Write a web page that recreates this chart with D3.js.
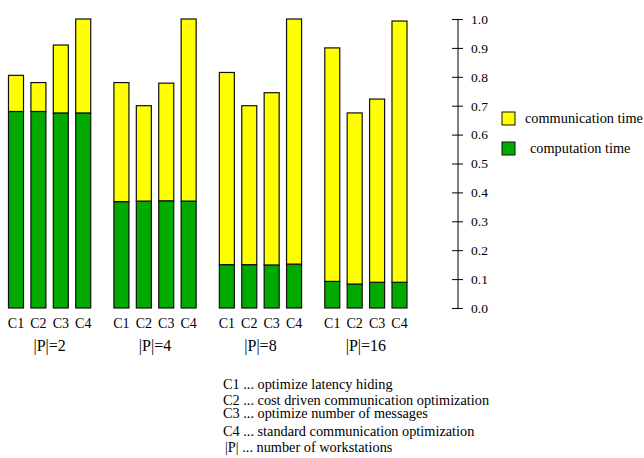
<!DOCTYPE html>
<html>
<head>
<meta charset="utf-8">
<script src="https://cdn.jsdelivr.net/npm/d3@7"></script>
<style>
  html, body { margin: 0; padding: 0; background: #fff; }
</style>
</head>
<body>
<svg id="chart" width="644" height="458"></svg>
<script>
// ---- data ----
const groups = ["|P|=2", "|P|=4", "|P|=8", "|P|=16"];
const configs = ["C1", "C2", "C3", "C4"];
// computation time per group (C1..C4)
const computation = [
  [0.68, 0.68, 0.675, 0.675],
  [0.368, 0.37, 0.371, 0.37],
  [0.15, 0.15, 0.149, 0.152],
  [0.092, 0.083, 0.089, 0.089]
];
// communication time per group (C1..C4)
const communication = [
  [0.125, 0.10, 0.235, 0.325],
  [0.412, 0.33, 0.407, 0.63],
  [0.665, 0.55, 0.596, 0.848],
  [0.808, 0.592, 0.634, 0.904]
];
const yTicks = [0, 0.1, 0.2, 0.3, 0.4, 0.5, 0.6, 0.7, 0.8, 0.9, 1.0];
const seriesNames = ["communication time", "computation time"];
const seriesColors = ["#ffff00", "#00aa00"];
const notes = [
  "C1 ... optimize latency hiding",
  "C2 ... cost driven communication optimization",
  "C3 ... optimize number of messages",
  "C4 ... standard communication optimization",
  "|P| ... number of workstations"
];

const FONT = "'Liberation Serif'";

// ---- layout ----
const svg = d3.select("#chart");
const y = d3.scaleLinear().domain([0, 1]).range([308, 19]);
const x0 = d3.scaleBand().domain(groups).range([8.5, 407]).paddingInner(0.22).paddingOuter(0);
const x1 = d3.scaleBand().domain(configs).range([0, x0.bandwidth()]).paddingInner(0.33).paddingOuter(0);

const rows = [];
groups.forEach((g, gi) => {
  configs.forEach((c, ci) => {
    rows.push({ g, c, comp: computation[gi][ci], comm: communication[gi][ci] });
  });
});

const bars = svg.append("g");
bars.selectAll("rect.comp").data(rows).join("rect")
  .attr("class", "comp")
  .attr("x", d => x0(d.g) + x1(d.c))
  .attr("width", x1.bandwidth())
  .attr("y", d => y(d.comp))
  .attr("height", d => y(0) - y(d.comp))
  .attr("fill", seriesColors[1])
  .attr("stroke", "#111").attr("stroke-width", 1.2);
bars.selectAll("rect.comm").data(rows).join("rect")
  .attr("class", "comm")
  .attr("x", d => x0(d.g) + x1(d.c))
  .attr("width", x1.bandwidth())
  .attr("y", d => y(d.comp + d.comm))
  .attr("height", d => y(d.comp) - y(d.comp + d.comm))
  .attr("fill", seriesColors[0])
  .attr("stroke", "#111").attr("stroke-width", 1.2);

// config labels
svg.append("g").selectAll("text").data(rows).join("text")
  .attr("x", d => x0(d.g) + x1(d.c) + x1.bandwidth() / 2)
  .attr("y", 328)
  .attr("text-anchor", "middle")
  .style("font-family", FONT)
  .style("font-size", "14px")
  .text(d => d.c);

// group labels
svg.append("g").selectAll("text").data(groups).join("text")
  .attr("x", d => x0(d) + x0.bandwidth() / 2)
  .attr("y", 350.5)
  .attr("text-anchor", "middle")
  .style("font-family", FONT)
  .style("font-size", "16px")
  .text(d => d);

// y axis
const axis = d3.axisRight(y).tickValues(yTicks).tickFormat(d3.format(".1f"))
  .tickSize(11).tickSizeOuter(0).tickPadding(8);
const ag = svg.append("g").attr("transform", "translate(452,0)").call(axis);
ag.select(".domain").remove();
ag.selectAll(".tick line").attr("stroke", "#000");
ag.selectAll(".tick text").style("font-family", FONT).style("font-size", "13.5px").attr("fill", "#000");
svg.append("line").attr("x1", 458).attr("x2", 458).attr("y1", y(0)).attr("y2", y(1)).attr("stroke", "#000");

// legend
const leg = svg.append("g");
seriesNames.forEach((n, i) => {
  leg.append("rect").attr("x", 502).attr("y", 112 + i * 30).attr("width", 13).attr("height", 13)
    .attr("fill", seriesColors[i]).attr("stroke", "#111").attr("stroke-width", 1);
  leg.append("text").attr("x", i === 0 ? 525 : 530).attr("y", 123 + i * 30)
    .style("font-family", FONT)
    .style("font-size", "14.3px").text(n);
});

// notes
const noteY = [389, 404.5, 418, 436, 452];
svg.append("g").selectAll("text").data(notes).join("text")
  .attr("x", (d, i) => i === 4 ? 225 : 223)
  .attr("y", (d, i) => noteY[i])
  .style("font-family", FONT)
  .style("font-size", "14.3px")
  .text(d => d);
</script>
</body>
</html>
